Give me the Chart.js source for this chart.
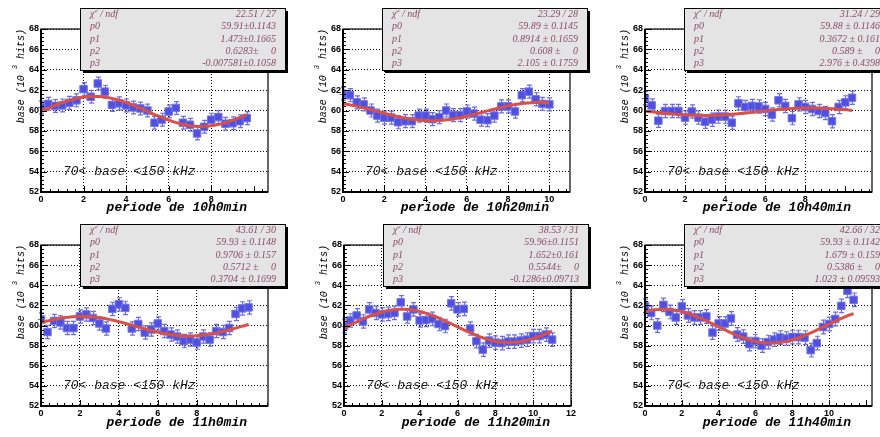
<!DOCTYPE html>
<html>
<head>
<meta charset="utf-8">
<script src="https://cdn.jsdelivr.net/npm/chart.js@4.4.0/dist/chart.umd.min.js"></script>
<style>
  body { margin: 0; background: #fff; width: 880px; height: 437px; position: relative; overflow: hidden; }
  canvas { position: absolute; }
</style>
</head>
<body>
<canvas id="c0"></canvas><canvas id="c1"></canvas><canvas id="c2"></canvas>
<canvas id="c3"></canvas><canvas id="c4"></canvas><canvas id="c5"></canvas>
<script>
// periods (one panel each)
const periodLabels = ['10h0min', '10h20min', '10h40min', '11h0min', '11h20min', '11h40min'];

// measured base (10^3 hits), one bin every 1/3 unit starting at 0
const base10h0 = [60.3, 60.65, 60.45, 60.5, 60.75, 61.0, 62.1, 61.35, 62.65, 61.85, 60.55, 60.7, 60.5, 60.3, 60.2,
  60.0, 58.8, 59.1, 59.9, 60.25, 58.8, 58.6, 57.75, 58.4, 59.1, 59.35, 58.7, 58.75, 58.95, 59.25];
const base10h20 = [61.65, 61.5, 60.8, 60.6, 60.0, 59.5, 59.3, 59.3, 58.85, 58.95, 58.95, 59.5, 59.5, 59.15, 59.35,
  60.0, 59.55, 59.55, 59.9, 59.7, 59.1, 59.05, 59.5, 60.4, 60.4, 59.9, 61.5, 61.85, 61.1, 60.65, 60.6];
const base10h40 = [61.2, 60.5, 59.0, 59.95, 59.95, 59.95, 59.3, 59.9, 59.3, 58.9, 59.1, 59.4, 59.4, 58.8, 60.7, 60.35,
  60.45, 60.4, 60.15, 59.6, 61.0, 60.45, 59.25, 60.6, 60.35, 60.15, 59.95, 59.75, 58.95, 60.35, 60.8, 61.25];
const base11h0 = [60.6, 59.35, 60.45, 60.3, 59.75, 59.75, 60.9, 61.1, 60.75, 60.2, 59.7, 61.65, 62.1, 61.75, 59.7, 60.15,
  59.3, 59.6, 60.2, 59.45, 59.1, 58.9, 58.45, 58.6, 58.3, 58.9, 58.6, 59.45, 59.35, 59.75, 61.15, 61.7, 61.8];
const base11h20 = [59.95, 60.5, 61.0, 60.4, 61.6, 61.25, 61.1, 61.15, 61.25, 62.3, 60.9, 61.6, 60.5, 60.55, 60.65, 60.15,
  59.95, 62.2, 61.6, 61.65, 59.7, 58.45, 57.6, 58.5, 58.3, 58.25, 58.4, 58.4, 58.5, 58.6, 58.95, 58.95, 59.1, 58.6];
const base11h40 = [61.95, 61.25, 60.0, 62.05, 61.35, 60.8, 61.9, 61.0, 60.8, 60.8, 60.9, 59.3, 60.2, 60.2, 60.7, 59.1,
  58.9, 58.15, 58.45, 58.0, 58.35, 58.6, 58.8, 58.7, 58.85, 58.85, 58.8, 57.55, 58.25, 59.85, 60.15, 60.65, 61.95, 63.45, 62.55];
const baseSeries = [base10h0, base10h20, base10h40, base11h0, base11h20, base11h40];
const binWidth = 1 / 3;
const pointErr = [0.63, 0.64, 0.65, 0.66, 0.67, 0.68];
const xMax = [10.667, 11, 11.333, 11.667, 12, 12.333];

// fit p0 + p1*sin(p2*x + p3), from the stats boxes
const fitP0 = [59.91, 59.89, 59.88, 59.93, 59.96, 59.93];
const fitP1 = [1.473, 0.8914, 0.3672, 0.9706, 1.652, 1.679];
const fitP2 = [0.6283, 0.608, 0.589, 0.5712, 0.5544, 0.5386];
const fitP3 = [-0.007581, 2.105, 2.976, 0.3704, -0.1286, 1.023];

// stats box texts
const chi2Text = ['22.51 / 27', '23.29 / 28', '31.24 / 29', '43.61 / 30', '38.53 / 31', '42.66 / 32'];
const p0Text = ['59.91\u00b10.1143', '59.89 \u00b1 0.1145', '59.88 \u00b1 0.1146', '59.93 \u00b1 0.1148', '59.96\u00b10.1151', '59.93 \u00b1 0.1142'];
const p1Text = ['1.473\u00b10.1665', '0.8914 \u00b1 0.1659', '0.3672 \u00b1 0.161', '0.9706 \u00b1 0.157', '1.652\u00b10.161', '1.679 \u00b1 0.159'];
const p2Text = ['0.6283\u00b1     0', '0.608 \u00b1     0', '0.589 \u00b1     0', '0.5712 \u00b1     0', '0.5544\u00b1     0', '0.5386 \u00b1     0'];
const p3Text = ['-0.007581\u00b10.1058', '2.105 \u00b1 0.1759', '2.976 \u00b1 0.4398', '0.3704 \u00b1 0.1699', '-0.1286\u00b10.09713', '1.023 \u00b1 0.09593'];

const yTickValues = [52, 54, 56, 58, 60, 62, 64, 66, 68];
const cutLabel = '70< base <150 kHz';

// page layout
const panelPos = [
  { cl: 41, cr: 268, row: 0 }, { cl: 343, cr: 570, row: 0 }, { cl: 645, cr: 872, row: 0 },
  { cl: 41, cr: 268, row: 1 }, { cl: 344, cr: 571, row: 1 }, { cl: 645, cr: 872, row: 1 }
];
const rowPos = [{ top: 0, h: 218, ct: 29, cb: 192 }, { top: 218, h: 219, ct: 245, cb: 406 }];

function decoPlugin(k) {
  return {
    id: 'deco' + k,
    beforeDatasetsDraw(chart) {
      // error bars under the markers
      const ctx = chart.ctx, xs = chart.scales.x, ys = chart.scales.y;
      ctx.save();
      ctx.strokeStyle = '#6b6be6';
      ctx.lineWidth = 1.2;
      baseSeries[k].forEach((v, i) => {
        const px = Math.round(xs.getPixelForValue(i * binWidth)) + 0.5;
        const t = ys.getPixelForValue(v + pointErr[k]);
        const b = ys.getPixelForValue(v - pointErr[k]);
        const py = Math.round(ys.getPixelForValue(v)) + 0.5;
        ctx.beginPath();
        ctx.moveTo(px, t); ctx.lineTo(px, b);
        ctx.moveTo(px - 2.5, t); ctx.lineTo(px + 2.5, t);
        ctx.moveTo(px - 2.5, b); ctx.lineTo(px + 2.5, b);
        ctx.moveTo(xs.getPixelForValue((i - 0.5) * binWidth), py);
        ctx.lineTo(xs.getPixelForValue((i + 0.5) * binWidth), py);
        ctx.stroke();
      });
      ctx.restore();
    },
    afterDraw(chart) {
      const ctx = chart.ctx, ca = chart.chartArea, xs = chart.scales.x, ys = chart.scales.y;
      ctx.save();
      // frame
      ctx.strokeStyle = '#000';
      ctx.lineWidth = 1.2;
      ctx.strokeRect(ca.left, ca.top, ca.right - ca.left, ca.bottom - ca.top);
      ctx.lineWidth = 2;
      ctx.beginPath();
      ctx.moveTo(ca.left, ca.top); ctx.lineTo(ca.left, ca.bottom); ctx.lineTo(ca.right, ca.bottom);
      ctx.stroke();
      // inward ticks
      ctx.lineWidth = 1;
      ctx.beginPath();
      for (let v = 52; v <= 68.001; v += 0.4) {
        const major = Math.abs(v / 2 - Math.round(v / 2)) < 1e-6;
        const py = Math.round(ys.getPixelForValue(v)) + 0.5;
        ctx.moveTo(ca.left, py); ctx.lineTo(ca.left + (major ? 6 : 3), py);
      }
      for (let v = 0; v <= xMax[k] + 0.001; v += 0.4) {
        const major = Math.abs(v / 2 - Math.round(v / 2)) < 1e-6;
        const px = Math.round(xs.getPixelForValue(v)) + 0.5;
        ctx.moveTo(px, ca.bottom); ctx.lineTo(px, ca.bottom - (major ? 6 : 3));
      }
      ctx.stroke();

      // cut label
      ctx.fillStyle = '#1a1a1a';
      ctx.font = 'italic 13px "Liberation Mono"';
      ctx.textAlign = 'left';
      ctx.textBaseline = 'middle';
      ctx.fillText(cutLabel, ca.left + 22, ys.getPixelForValue(54));

      // x title
      ctx.font = 'bold italic 13px "Liberation Mono"';
      ctx.textAlign = 'right';
      ctx.fillStyle = '#000';
      ctx.fillText('periode de ' + periodLabels[k], ca.right - 21, ca.bottom + 16 + panelPos[k].row);

      // y title, rotated
      ctx.save();
      ctx.translate(ca.left - 20, ca.top);
      ctx.rotate(-Math.PI / 2);
      ctx.textAlign = 'left';
      ctx.textBaseline = 'middle';
      ctx.font = 'italic 10px "Liberation Mono"';
      const partA = 'base (10 ', partC = ' hits)';
      const wA = ctx.measureText(partA).width, wC = ctx.measureText(partC).width;
      ctx.font = 'italic 7px "Liberation Mono"';
      const wB = ctx.measureText('3').width;
      let x0 = -(wA + wB + wC);
      ctx.font = 'italic 10px "Liberation Mono"';
      ctx.fillText(partA, x0, 0);
      ctx.font = 'italic 7px "Liberation Mono"';
      ctx.fillText('3', x0 + wA, -6);
      ctx.font = 'italic 10px "Liberation Mono"';
      ctx.fillText(partC, x0 + wA + wB, 0);
      ctx.restore();

      // stats box
      const bx = ca.left + 39, by = ca.top - 21, bw = ca.right + 17 - bx, bh = 62;
      ctx.fillStyle = '#000';
      ctx.fillRect(bx + 3, by + 3, bw, bh);
      ctx.fillStyle = '#e4e4e4';
      ctx.fillRect(bx, by, bw, bh);
      ctx.strokeStyle = '#000';
      ctx.lineWidth = 1;
      ctx.strokeRect(bx + 0.5, by + 0.5, bw, bh);
      const rows = [['p0', p0Text[k]], ['p1', p1Text[k]], ['p2', p2Text[k]], ['p3', p3Text[k]]];
      ctx.fillStyle = '#8a4a68';
      ctx.textBaseline = 'middle';
      const rowH = bh / 5;
      // chi2 row
      ctx.font = 'italic 10px "Liberation Serif"';
      ctx.textAlign = 'left';
      ctx.fillText('\u03c7', bx + 10, by + rowH * 0.5);
      const wChi = ctx.measureText('\u03c7').width;
      ctx.font = 'italic 7px "Liberation Serif"';
      ctx.fillText('2', bx + 10 + wChi, by + rowH * 0.5 - 4);
      ctx.font = 'italic 10px "Liberation Serif"';
      ctx.fillText(' / ndf', bx + 10 + wChi + 3, by + rowH * 0.5);
      ctx.textAlign = 'right';
      ctx.fillText(chi2Text[k], bx + bw - 9, by + rowH * 0.5);
      rows.forEach((r, i) => {
        const yy = by + rowH * (i + 1.5);
        ctx.textAlign = 'left';
        ctx.fillText(r[0], bx + 10, yy);
        ctx.textAlign = 'right';
        ctx.fillText(r[1], bx + bw - 9, yy);
      });
      ctx.restore();
    }
  };
}

function makePanel(k) {
  const p = panelPos[k], r = rowPos[p.row];
  const canvas = document.getElementById('c' + k);
  const w = (p.cr - p.cl) + 41 + 22;
  canvas.width = w; canvas.height = r.h;
  canvas.style.left = (p.cl - 41) + 'px';
  canvas.style.top = r.top + 'px';
  canvas.style.width = w + 'px'; canvas.style.height = r.h + 'px';

  const xAxisH = 14;
  const points = baseSeries[k].map((v, i) => ({ x: i * binWidth, y: v }));
  const lastX = (baseSeries[k].length - 1) * binWidth;
  const curve = [];
  for (let j = 0; j <= 120; j++) {
    const x = lastX * j / 120;
    curve.push({ x: x, y: fitP0[k] + fitP1[k] * Math.sin(fitP2[k] * x + fitP3[k]) });
  }

  new Chart(canvas.getContext('2d'), {
    type: 'scatter',
    data: {
      datasets: [{
        type: 'line',
        label: 'fit',
        data: curve,
        borderColor: 'rgb(218,80,70)',
        borderWidth: 3,
        pointRadius: 0,
        tension: 0,
        fill: false,
        order: 0
      }, {
        label: 'base',
        data: points,
        pointStyle: 'rect',
        pointRadius: 5.3,
        backgroundColor: '#5050de',
        borderColor: '#7676e8',
        borderWidth: 1,
        order: 1
      }]
    },
    options: {
      responsive: false,
      devicePixelRatio: 1,
      animation: false,
      layout: { padding: { left: 0, right: 22, top: r.ct - r.top, bottom: (r.top + r.h - r.cb) - xAxisH } },
      plugins: { legend: { display: false }, tooltip: { enabled: false } },
      scales: {
        x: {
          type: 'linear',
          min: 0,
          max: xMax[k],
          afterBuildTicks: s => { s.ticks = s.ticks.filter(t => Math.abs(t.value / 2 - Math.round(t.value / 2)) < 1e-6); },
          afterFit: s => { s.height = xAxisH; },
          ticks: { stepSize: 2, padding: 2, color: '#000', maxRotation: 0, font: { family: 'Liberation Sans', weight: 'bold', size: 9 } },
          grid: { color: '#000', lineWidth: 1, drawTicks: false },
          border: { display: false, dash: [1, 2] }
        },
        y: {
          type: 'linear',
          min: 52,
          max: 68,
          afterBuildTicks: s => { s.ticks = yTickValues.map(v => ({ value: v })); },
          afterFit: s => { s.width = 41; },
          ticks: { stepSize: 2, padding: 2, color: '#000', font: { family: 'Liberation Sans', weight: 'bold', size: 9 } },
          grid: { color: '#000', lineWidth: 1, drawTicks: false },
          border: { display: false, dash: [1, 2] }
        }
      }
    },
    plugins: [decoPlugin(k)]
  });
}

for (let k = 0; k < 6; k++) makePanel(k);
</script>
</body>
</html>
